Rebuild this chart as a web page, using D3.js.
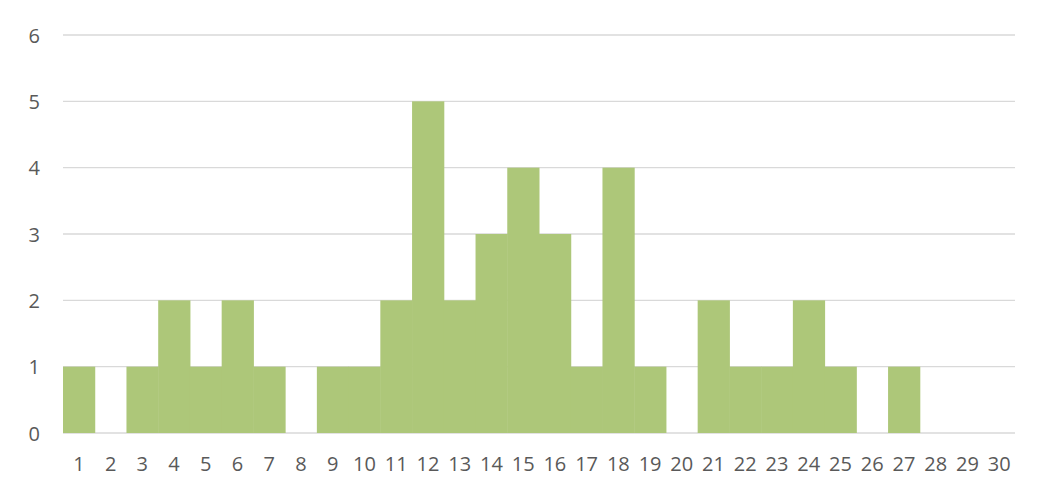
<!DOCTYPE html>
<html>
<head>
<meta charset="utf-8">
<script src="https://cdn.jsdelivr.net/npm/d3@7"></script>
<style>
  html, body { margin: 0; padding: 0; background: #ffffff; }
  svg { display: block; }
</style>
</head>
<body>
<svg id="chart" width="1051" height="502"></svg>
<script>
const categories = ["1","2","3","4","5","6","7","8","9","10","11","12","13","14","15","16","17","18","19","20","21","22","23","24","25","26","27","28","29","30"];
const values = [1,0,1,2,1,2,1,0,1,1,2,5,2,3,4,3,1,4,1,0,2,1,1,2,1,0,1,0,0,0];
const yTicks = [0,1,2,3,4,5,6];

const svg = d3.select("#chart");
const plotLeft = 63, plotRight = 1015, plotTop = 35, plotBottom = 433;

const x = d3.scaleBand().domain(categories).range([plotLeft, plotRight]).padding(0);
const y = d3.scaleLinear().domain([0, 6]).range([plotBottom, plotTop]);

const font = "'Open Sans', sans-serif";
const textColor = "#595959";

// gridlines
svg.append("g")
  .selectAll("line")
  .data(yTicks)
  .join("line")
  .attr("x1", plotLeft)
  .attr("x2", plotRight)
  .attr("y1", d => y(d))
  .attr("y2", d => y(d))
  .attr("stroke", "#d9d9d9")
  .attr("stroke-width", 1.3);

// bars
svg.append("g")
  .selectAll("rect")
  .data(values.map((v, i) => ({c: categories[i], v})))
  .join("rect")
  .attr("x", d => x(d.c))
  .attr("width", x.bandwidth() + 0.5)
  .attr("y", d => y(d.v))
  .attr("height", d => y(0) - y(d.v))
  .attr("fill", "#adc779");

// y axis
const yAxis = d3.axisLeft(y).tickValues(yTicks).tickSize(0).tickPadding(0).tickFormat(d3.format("d"));
const yg = svg.append("g").attr("transform", `translate(${40},0)`).call(yAxis);
yg.select(".domain").remove();
yg.selectAll("text")
  .attr("font-family", font)
  .attr("font-size", "20px")
  .attr("fill", textColor)
  .attr("dy", "0.36em");

// x axis
const xAxis = d3.axisBottom(x).tickSize(0).tickPadding(0);
const xg = svg.append("g").attr("transform", `translate(0,${plotBottom})`).call(xAxis);
xg.select(".domain").remove();
xg.selectAll("text")
  .attr("font-family", font)
  .attr("font-size", "20px")
  .attr("fill", textColor)
  .attr("y", 38)
  .attr("dy", 0);
</script>
</body>
</html>
